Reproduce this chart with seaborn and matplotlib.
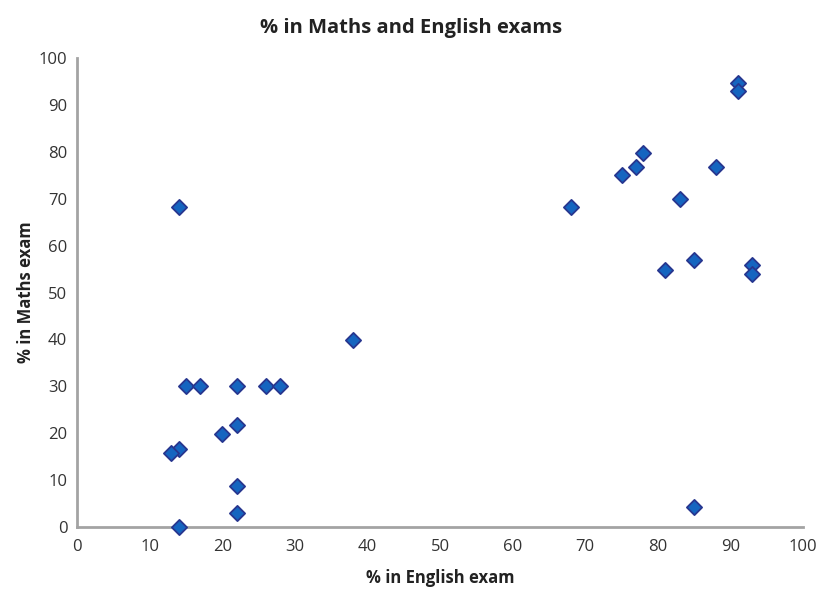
import pandas as pd
import seaborn as sns
import matplotlib
matplotlib.use('Agg')
import matplotlib.pyplot as plt

# scores
english = [14, 15, 17, 22, 26, 28, 38, 22, 20, 14, 13, 22, 22, 14,
           68, 75, 77, 78, 83, 88, 91, 91, 81, 85, 93, 93, 85]
maths = [68.3, 30, 30, 30, 30, 30, 39.8, 21.7, 19.8, 16.6, 15.7, 8.7, 3, 0,
         68.3, 75, 76.8, 79.7, 70, 76.8, 94.7, 93, 54.8, 57, 55.9, 54, 4.3]

scores = pd.DataFrame({'English': english, 'Maths': maths})

sns.set_style('white')
plt.rcParams['font.family'] = ['Open Sans', 'DejaVu Sans']

fig = plt.figure(figsize=(8.23, 5.92), dpi=100)
ax = fig.add_axes([0.0936, 0.1098, 0.8821, 0.7922])

sns.scatterplot(data=scores, x='English', y='Maths', ax=ax, marker='D', s=60,
                color='#1565c0', edgecolor='#27368f', linewidth=1.3,
                clip_on=False, zorder=3)

ax.set_xlim(0, 100)
ax.set_ylim(0, 100)
ax.set_xticks(range(0, 101, 10))
ax.set_yticks(range(0, 101, 10))
ax.tick_params(axis='both', length=0, labelsize=12, colors='#333333', pad=9)
ax.tick_params(axis='y', pad=7)

for side in ['top', 'right']:
    ax.spines[side].set_visible(False)
for side in ['left', 'bottom']:
    ax.spines[side].set_color('#a3a3a3')
    ax.spines[side].set_linewidth(2)

ax.set_xlabel('% in English exam', fontsize=12, fontweight='bold', color='#222222', labelpad=10)
ax.set_ylabel('% in Maths exam', fontsize=12, fontweight='bold', color='#222222', labelpad=3)
fig.text(0.5, 0.952, '% in Maths and English exams', ha='center', va='center',
         fontsize=14.5, fontweight='bold', color='#222222')

fig.savefig('out.png', dpi=100)
